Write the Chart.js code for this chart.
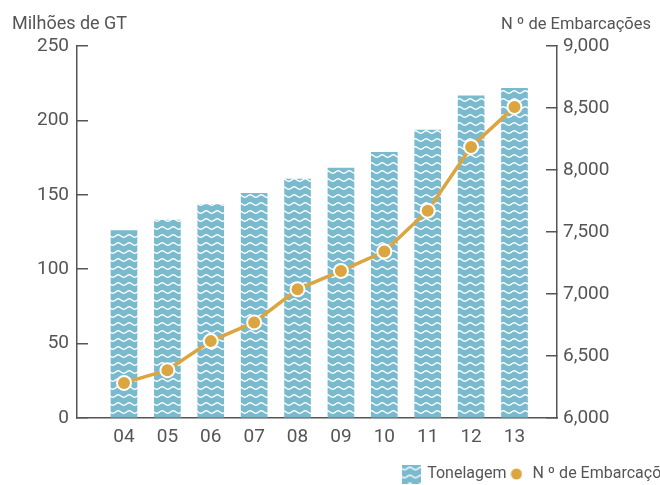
<!DOCTYPE html>
<html>
<head>
<meta charset="utf-8">
<script src="https://cdn.jsdelivr.net/npm/chart.js@4.4.1/dist/chart.umd.min.js"></script>
<style>
html, body { margin: 0; padding: 0; background: #fff; overflow: hidden; }
#caixa { width: 680px; height: 485px; }
</style>
</head>
<body>
<div id="caixa"><canvas id="grafico"></canvas></div>
<script>
// dados
const anos = ['04', '05', '06', '07', '08', '09', '10', '11', '12', '13'];
const tonelagem = [126, 133, 143.5, 151, 160.5, 168, 178.5, 193.5, 216.5, 221.5];
const embarcacoes = [6283, 6386, 6620, 6771, 7038, 7186, 7342, 7672, 8186, 8509];
const ticksGT = [0, 50, 100, 150, 200, 250];
const ticksEmb = [6000, 6500, 7000, 7500, 8000, 8500, 9000];

const tituloEsq = 'Milhões de GT';
const tituloDir = 'N º de Embarcações';
const nomeBarras = 'Tonelagem';
const nomeLinha = 'N º de Embarcações';

const azul = '#7abace';
const laranja = '#dba540';
const cinza = '#555555';
const fonte = 'Roboto, "Liberation Sans", sans-serif';

// padrão de ondas brancas sobre azul
function criaOndas() {
    let c = document.createElement('canvas');
    c.width = 11;
    c.height = 8;
    let g = c.getContext('2d');
    g.fillStyle = azul;
    g.fillRect(0, 0, 11, 8);
    g.strokeStyle = '#fff';
    g.lineWidth = 1.4;
    g.beginPath();
    for (let x = -1; x <= 12; x += 0.5) {
        let y = 4 + 1.3 * Math.sin(x / 11 * 2 * Math.PI);
        if (x === -1) g.moveTo(x, y); else g.lineTo(x, y);
    }
    g.stroke();
    return g.createPattern(c, 'repeat');
}

let ondas = criaOndas();

// quadradinho e bolinha da legenda
function criaQuadrado() {
    let c = document.createElement('canvas');
    c.width = 19;
    c.height = 19;
    let g = c.getContext('2d');
    g.fillStyle = ondas;
    g.fillRect(0, 0, 19, 19);
    return c;
}

function criaBolinha() {
    let c = document.createElement('canvas');
    c.width = 12;
    c.height = 12;
    let g = c.getContext('2d');
    g.fillStyle = laranja;
    g.beginPath();
    g.arc(6, 6, 5.5, 0, Math.PI * 2);
    g.fill();
    return c;
}

let quadrado = criaQuadrado();
let bolinha = criaBolinha();

const titulosEixos = {
    id: 'titulosEixos',
    afterDraw(chart) {
        let ctx = chart.ctx;
        ctx.save();
        ctx.fillStyle = cinza;
        ctx.textBaseline = 'alphabetic';
        ctx.font = '18px ' + fonte;
        ctx.textAlign = 'left';
        ctx.fillText(tituloEsq, 12, 29);
        ctx.font = '16.5px ' + fonte;
        ctx.textAlign = 'right';
        ctx.fillText(tituloDir, 651, 29);
        ctx.restore();
    }
};

let ctx = document.getElementById('grafico');

const config = {
    type: 'bar',
    data: {
        datasets: [{
            type: 'line',
            label: nomeLinha,
            data: embarcacoes.map((v, i) => ({x: i, y: v})),
            yAxisID: 'y2',
            borderColor: laranja,
            borderWidth: 3.5,
            pointRadius: 7,
            pointBackgroundColor: laranja,
            pointBorderColor: '#fff',
            pointBorderWidth: 2,
            tension: 0,
            order: 0
        }, {
            type: 'bar',
            label: nomeBarras,
            data: tonelagem.map((v, i) => ({x: i, y: v})),
            yAxisID: 'y',
            backgroundColor: ondas,
            borderWidth: 0,
            barThickness: 26,
            order: 1
        }]
    },
    options: {
        responsive: true,
        maintainAspectRatio: false,
        animation: false,
        layout: { padding: { top: 46, left: 0, right: 0, bottom: -7 } },
        scales: {
            x: {
                type: 'linear',
                offset: false,
                min: -1.083,
                max: 9.98,
                afterBuildTicks: s => { s.ticks = anos.map((_, i) => ({value: i})); },
                afterFit: s => { s.height = 46; },
                ticks: {
                    callback: v => anos[v] ?? '',
                    color: cinza,
                    font: { size: 19, family: fonte },
                    padding: 8,
                    maxRotation: 0
                },
                grid: { display: false, drawTicks: false },
                border: { display: true, color: cinza, width: 1.5 }
            },
            y: {
                position: 'left',
                min: 0,
                max: 250,
                afterBuildTicks: s => { s.ticks = ticksGT.map(v => ({value: v})); },
                afterFit: s => { s.width = 77; },
                ticks: {
                    color: cinza,
                    font: { size: 19, family: fonte },
                    padding: 19
                },
                grid: { drawOnChartArea: false, drawTicks: true, tickLength: -11, color: cinza, lineWidth: 1.5 },
                border: { display: true, color: cinza, width: 1.5 }
            },
            y2: {
                position: 'right',
                min: 6000,
                max: 9000,
                afterBuildTicks: s => { s.ticks = ticksEmb.map(v => ({value: v})); },
                afterFit: s => { s.width = 123; },
                ticks: {
                    callback: v => v.toLocaleString('en-US'),
                    color: cinza,
                    font: { size: 19, family: fonte },
                    padding: 17
                },
                grid: { drawOnChartArea: false, drawTicks: true, tickLength: -11, color: cinza, lineWidth: 1.5 },
                border: { display: true, color: cinza, width: 1.5 }
            }
        },
        plugins: {
            tooltip: { enabled: false },
            legend: {
                position: 'bottom',
                align: 'end',
                labels: {
                    usePointStyle: true,
                    padding: 2,
                    color: cinza,
                    font: { size: 16, family: fonte },
                    generateLabels: () => [
                        { text: nomeBarras, fillStyle: azul, strokeStyle: 'rgba(0,0,0,0)', lineWidth: 0, pointStyle: quadrado, datasetIndex: 1, fontColor: cinza },
                        { text: nomeLinha, fillStyle: laranja, strokeStyle: 'rgba(0,0,0,0)', lineWidth: 0, pointStyle: bolinha, datasetIndex: 0, fontColor: cinza }
                    ]
                }
            }
        }
    },
    plugins: [titulosEixos]
};

var myChart = new Chart(ctx, config);
</script>
</body>
</html>
